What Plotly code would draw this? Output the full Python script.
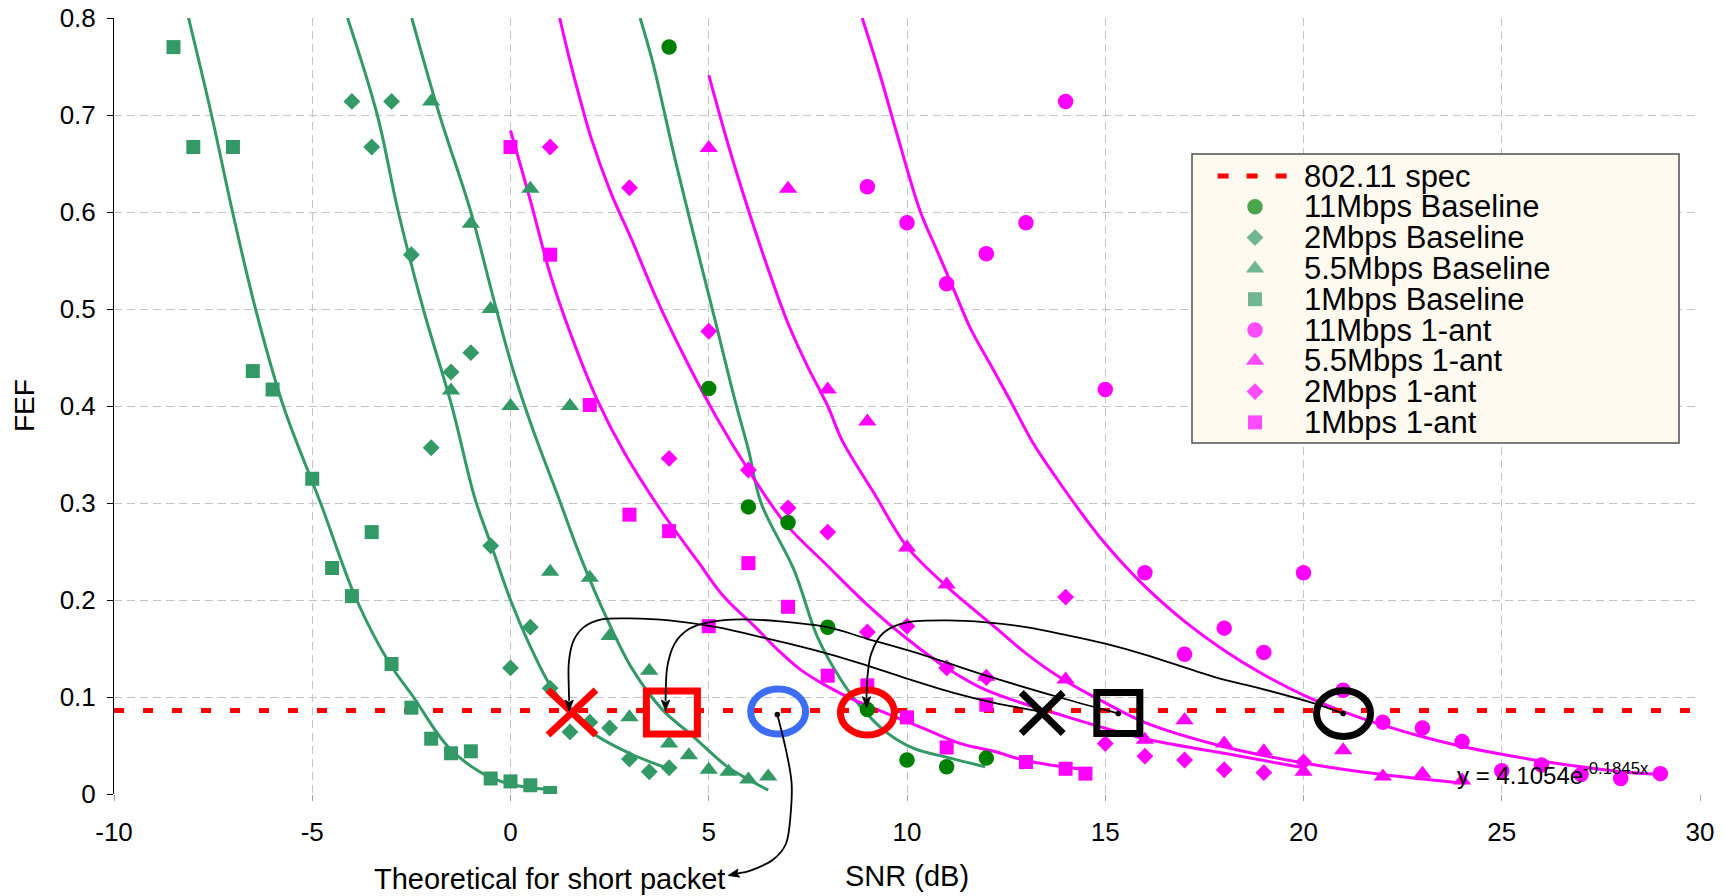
import math
import plotly.graph_objects as go

# ---------------- colours ----------------
SEA = "#339966"
GREEN = "#008000"
MAG = "#FF00FF"
FONT = "Liberation Sans, Arial, sans-serif"

# ---------------- measured data (SNR dB, FEF) ----------------
snr_11_base = [4, 5, 6, 7, 8, 9, 10, 11, 12]
fef_11_base = [0.770, 0.418, 0.296, 0.280, 0.172, 0.087, 0.035, 0.028, 0.037]

snr_2_base = [-4, -3.5, -3, -2.5, -2, -1.5, -1, -0.5, 0, 0.5, 1, 1.5, 2, 2.5, 3, 3.5, 4]
fef_2_base = [0.714, 0.667, 0.714, 0.556, 0.357, 0.435, 0.455, 0.256, 0.130, 0.172, 0.109,
              0.064, 0.074, 0.068, 0.036, 0.023, 0.027]

snr_55_base = [-2, -1.5, -1, -0.5, 0, 0.5, 1, 1.5, 2, 2.5, 3, 3.5, 4, 4.5, 5, 5.5, 6, 6.5]
fef_55_base = [0.714, 0.416, 0.588, 0.500, 0.400, 0.624, 0.229, 0.400, 0.223, 0.163, 0.079,
               0.127, 0.052, 0.040, 0.025, 0.023, 0.015, 0.018]

snr_1_base = [-8.5, -8, -7, -6.5, -6, -5, -4.5, -4, -3.5, -3, -2.5, -2, -1.5, -1, -0.5, 0, 0.5, 1]
fef_1_base = [0.770, 0.667, 0.667, 0.436, 0.417, 0.325, 0.233, 0.204, 0.270, 0.134, 0.089,
              0.057, 0.042, 0.044, 0.016, 0.013, 0.009, 0.001]

snr_11_ant = [9, 10, 11, 12, 13, 14, 15, 16, 17, 18, 19, 20, 21, 22, 23, 24, 25, 26, 27, 28, 29]
fef_11_ant = [0.626, 0.589, 0.526, 0.557, 0.589, 0.714, 0.417, 0.228, 0.144, 0.171, 0.146,
              0.228, 0.107, 0.074, 0.068, 0.054, 0.024, 0.030, 0.020, 0.016, 0.021]

snr_55_ant = [5, 7, 8, 9, 10, 11, 12, 14, 16, 17, 18, 19, 20, 21, 22, 23, 24]
fef_55_ant = [0.666, 0.624, 0.417, 0.384, 0.254, 0.216, 0.121, 0.118, 0.056, 0.076, 0.052,
              0.044, 0.023, 0.045, 0.018, 0.021, 0.014]

snr_2_ant = [1, 3, 4, 5, 6, 7, 8, 9, 10, 11, 12, 14, 15, 16, 17, 18, 19, 20]
fef_2_ant = [0.667, 0.625, 0.346, 0.477, 0.334, 0.295, 0.270, 0.167, 0.173, 0.130, 0.120,
             0.203, 0.052, 0.039, 0.035, 0.025, 0.022, 0.033]

snr_1_ant = [0, 1, 2, 3, 4, 5, 6, 7, 8, 9, 10, 11, 12, 13, 14, 14.5]
fef_1_ant = [0.667, 0.556, 0.401, 0.288, 0.271, 0.173, 0.238, 0.193, 0.122, 0.112, 0.079,
             0.048, 0.092, 0.033, 0.026, 0.021]

spec_snr = [-10, 30]
spec_fef = [0.086, 0.086]

x_tick_vals = [-10, -5, 0, 5, 10, 15, 20, 25, 30]
x_tick_text = ["-10", "-5", "0", "5", "10", "15", "20", "25", "30"]

# ---------------- trend lines ----------------
tr_1_base_x = [-8.12, -7.54, -7.01, -6.43, -5.73, -4.79, -3.88, -3.04, -2.45, -1.58, -0.74, 0.0, 0.62, 0.9]
tr_1_base_y = [0.8, 0.7, 0.6, 0.5, 0.4, 0.3, 0.2, 0.134, 0.1, 0.049, 0.022, 0.010, 0.006, 0.005]

tr_2_base_x = [-4.11, -3.36, -2.83, -2.2, -1.48, -0.9, -0.48, 0.0, 0.5, 1.0, 1.5, 2.0, 3.0, 4.0]
tr_2_base_y = [0.8, 0.7, 0.6, 0.5, 0.4, 0.305, 0.256, 0.2, 0.152, 0.112, 0.086, 0.065, 0.042, 0.026]

tr_55_base_x = [-2.49, -1.79, -1.0, -0.43, 0.08, 0.58, 1.18, 1.77, 2.44, 3.07, 3.83, 4.59, 5.44, 6.0, 6.5]
tr_55_base_y = [0.8, 0.7, 0.6, 0.511, 0.435, 0.374, 0.309, 0.244, 0.18, 0.129, 0.087, 0.06, 0.029, 0.015, 0.004]

tr_11_base_x = [3.27, 3.59, 3.88, 4.14, 4.64, 5.15, 5.66, 6.0, 6.32, 7.15, 7.74, 8.33, 8.83, 9.5, 10.17, 11.09, 11.97]
tr_11_base_y = [0.8, 0.754, 0.703, 0.656, 0.573, 0.49, 0.406, 0.355, 0.3, 0.231, 0.162, 0.118, 0.09, 0.063, 0.047, 0.037, 0.028]

tr_1_ant_x = [0, 0.5, 1.0, 1.51, 2.19, 2.87, 3.8, 4.72, 5.39, 6.15, 6.73, 7.32, 7.99, 8.66, 9.25,
              10.51, 11.35, 12.19, 12.94, 13.94, 14.62]
tr_1_ant_y = [0.684, 0.612, 0.536, 0.475, 0.406, 0.352, 0.292, 0.24, 0.203, 0.173, 0.149, 0.128,
              0.111, 0.097, 0.087, 0.066, 0.052, 0.044, 0.035, 0.028, 0.025]

tr_2_ant_x = [1.24, 1.51, 1.77, 2.02, 2.53, 3.04, 3.71, 4.48, 5.24, 6.0, 6.93, 8.0, 9.0, 10.0,
              11.0, 12.0, 14.0, 16.0, 18.0, 20.0]
tr_2_ant_y = [0.8, 0.754, 0.714, 0.678, 0.62, 0.573, 0.508, 0.443, 0.385, 0.334, 0.279, 0.235,
              0.195, 0.16, 0.13, 0.107, 0.080, 0.057, 0.042, 0.027]

tr_55_ant_x = [5.0, 5.5, 6.0, 6.5, 7.0, 7.5, 8.0, 8.37, 9.17, 10.0, 11.0, 12.19, 13.0, 13.94,
               15.0, 16.04, 17.97, 20.0, 21.99, 24.08]
tr_55_ant_y = [0.741, 0.668, 0.602, 0.541, 0.485, 0.44, 0.40, 0.364, 0.31, 0.255, 0.214, 0.173,
               0.145, 0.118, 0.094, 0.073, 0.049, 0.032, 0.020, 0.011]

tr_11_ant_x = [8.87, 9.33, 9.75, 10.34, 10.76, 11.18, 11.6, 12.1, 12.6, 13.19, 13.78, 14.5, 15, 16,
               17, 18, 19, 20, 21, 22, 23, 24, 25, 26, 27, 28, 29]
tr_11_ant_y = [0.80, 0.74, 0.68, 0.60, 0.56, 0.52, 0.48, 0.443, 0.406, 0.361, 0.325, 0.284, 0.258,
               0.214, 0.178, 0.148, 0.123, 0.102, 0.085, 0.071, 0.059, 0.049, 0.041, 0.034, 0.028,
               0.023, 0.020]

# ---------------- callout glyphs and arrows ----------------
mark_kind = ["x", "square", "ring", "ring", "x", "square", "ring"]
mark_x = [1.55, 4.07, 6.75, 9.0, 13.41, 15.33, 21.01]
mark_y = [0.084, 0.084, 0.085, 0.084, 0.0835, 0.0835, 0.083]
mark_color = ["#FF0000", "#FF0000", "#3D6DF5", "#FF0000", "#000000", "#000000", "#000000"]
mark_w_px = [53, 58, 62, 61, 47, 50, 61]
mark_h_px = [50, 50, 52, 52, 46, 48, 53]

dot_x = [6.73, 15.33, 21.0]
dot_y = [0.082, 0.083, 0.083]

arrow_a = [(13.35, 0.085), (12.2, 0.094), (11.2, 0.104), (10.0, 0.119), (8.8, 0.135), (7.6, 0.149),
           (6.4, 0.161), (5.2, 0.172), (4.0, 0.179), (3.0, 0.181), (2.3, 0.180), (1.85, 0.172),
           (1.58, 0.157), (1.47, 0.135), (1.47, 0.11), (1.48, 0.096)]
arrow_b = [(15.33, 0.083), (13.81, 0.100), (12.0, 0.122), (10.44, 0.143), (9.0, 0.160), (7.99, 0.172),
           (6.8, 0.178), (5.81, 0.180), (5.0, 0.177), (4.5, 0.17), (4.14, 0.155), (3.95, 0.13),
           (3.91, 0.096)]
arrow_c = [(21.0, 0.083), (20.23, 0.094), (18.9, 0.109), (17.72, 0.121), (16.06, 0.143), (15.0, 0.155),
           (14.0, 0.164), (13.0, 0.172), (12.0, 0.177), (11.0, 0.179), (10.0, 0.177), (9.4, 0.166),
           (9.1, 0.145), (9.0, 0.12), (8.98, 0.099)]
arrow_d = [(6.73, 0.082), (6.95, 0.045), (7.09, 0.011), (7.06, -0.023), (6.95, -0.051),
           (6.61, -0.068), (6.05, -0.079), (5.7, -0.082)]
# tip position (data) and screen direction the head points to (pixels, y down)
arrow_tips = [(1.48, 0.0855, 0, 1), (3.91, 0.0855, 0, 1), (8.98, 0.089, 0, 1), (5.49, -0.084, -22, 5)]

# ---------------- geometry ----------------
W, H = 1723, 896
ML, MR, MT, MB = 114, 23, 18, 102
XR = [-10, 30]
YR = [0, 0.8]
PW = W - ML - MR
PH = H - MT - MB


def px2x(px):
    return XR[0] + (px - ML) / PW * (XR[1] - XR[0])


def py2y(py):
    return YR[0] + (H - MB - py) / PH * (YR[1] - YR[0])


def wpx(n):
    return n / PW * (XR[1] - XR[0])


def hpx(n):
    return n / PH * (YR[1] - YR[0])


def to_paper(p):
    return ((p[0] - XR[0]) / (XR[1] - XR[0]), (p[1] - YR[0]) / (YR[1] - YR[0]))


def smooth_path(pts, conv=lambda p: p):
    P = [conv(p) for p in pts]
    n = len(P)
    d = "M%.5f,%.6f" % P[0]
    for i in range(n - 1):
        p0 = P[i - 1] if i > 0 else P[i]
        p1, p2 = P[i], P[i + 1]
        p3 = P[i + 2] if i + 2 < n else P[i + 1]
        c1 = (p1[0] + (p2[0] - p0[0]) / 6, p1[1] + (p2[1] - p0[1]) / 6)
        c2 = (p2[0] - (p3[0] - p1[0]) / 6, p2[1] - (p3[1] - p1[1]) / 6)
        d += " C%.5f,%.6f %.5f,%.6f %.5f,%.6f" % (c1[0], c1[1], c2[0], c2[1], p2[0], p2[1])
    return d


def head_path(tx, ty, ux, uy, length=11.0, half=4.2):
    """Filled arrow head; tip in data units, direction in screen pixels."""
    n = math.hypot(ux, uy)
    ux, uy = ux / n, uy / n
    bx, by = -ux * length, -uy * length          # base centre offset (px)
    nx, ny = -uy * half, ux * half                # normal (px)
    tip = to_paper((tx, ty))

    def off(dx, dy):
        return (tip[0] + dx / PW, tip[1] - dy / PH)
    p1 = off(bx + nx, by + ny)
    p2 = off(bx * 0.8, by * 0.8)
    p3 = off(bx - nx, by - ny)
    return "M%.6f,%.6f L%.6f,%.6f L%.6f,%.6f L%.6f,%.6f Z" % (tip[0], tip[1], p1[0], p1[1],
                                                            p2[0], p2[1], p3[0], p3[1])


fig = go.Figure()

# trend lines
trends = [
    (tr_1_base_x, tr_1_base_y, SEA), (tr_2_base_x, tr_2_base_y, SEA),
    (tr_55_base_x, tr_55_base_y, SEA), (tr_11_base_x, tr_11_base_y, SEA),
    (tr_1_ant_x, tr_1_ant_y, MAG), (tr_2_ant_x, tr_2_ant_y, MAG),
    (tr_55_ant_x, tr_55_ant_y, MAG), (tr_11_ant_x, tr_11_ant_y, MAG),
]
for tx, ty, col in trends:
    fig.add_trace(go.Scatter(x=tx, y=ty, mode="lines", showlegend=False, hoverinfo="skip",
                             line=dict(color=col, width=3, shape="spline", smoothing=1.0)))

# spec line
fig.add_trace(go.Scatter(x=spec_snr, y=spec_fef, mode="lines", name="802.11 spec", showlegend=False,
                         line=dict(color="#FF0000", width=5, dash="10px,19px")))

SIZES = {"circle": 15.5, "diamond": 13, "triangle-up": 16, "square": 14}
series = [
    ("11Mbps Baseline", snr_11_base, fef_11_base, "circle", GREEN),
    ("2Mbps Baseline", snr_2_base, fef_2_base, "diamond", SEA),
    ("5.5Mbps Baseline", snr_55_base, fef_55_base, "triangle-up", SEA),
    ("1Mbps Baseline", snr_1_base, fef_1_base, "square", SEA),
    ("11Mbps 1-ant", snr_11_ant, fef_11_ant, "circle", MAG),
    ("5.5Mbps 1-ant", snr_55_ant, fef_55_ant, "triangle-up", MAG),
    ("2Mbps 1-ant", snr_2_ant, fef_2_ant, "diamond", MAG),
    ("1Mbps 1-ant", snr_1_ant, fef_1_ant, "square", MAG),
]
for name, xs, ys, sym, col in series:
    fig.add_trace(go.Scatter(x=xs, y=ys, mode="markers", name=name, showlegend=False,
                             marker=dict(symbol=sym, color=col, size=SIZES[sym], line=dict(width=0))))

shapes = []
annotations = []

# ---------------- custom legend ----------------
LEG_X0, LEG_X1, LEG_Y0, LEG_Y1 = 1192, 1679, 154, 443
ROW0, ROW_STEP = 176, 30.8
SYM_PX, TEXT_PX = 1255, 1302
shapes.append(dict(type="rect", xref="x", yref="y", layer="between",
                   x0=px2x(LEG_X0), x1=px2x(LEG_X1), y0=py2y(LEG_Y1), y1=py2y(LEG_Y0),
                   fillcolor="#FFFAF0", line=dict(color="#505050", width=1.5)))
legend_names = ["802.11 spec"] + [s[0] for s in series]
rows_py = [ROW0 + ROW_STEP * i for i in range(len(legend_names))]
shapes.append(dict(type="line", xref="x", yref="y", x0=px2x(1217.6), x1=px2x(1286.6),
                   y0=py2y(rows_py[0]), y1=py2y(rows_py[0]),
                   line=dict(color="#FF0000", width=5, dash="11px,18px")))
fig.add_trace(go.Scatter(
    x=[px2x(SYM_PX)] * len(series), y=[py2y(p) for p in rows_py[1:]], mode="markers",
    showlegend=False, hoverinfo="skip",
    marker=dict(symbol=[s[3] for s in series], color=[s[4] for s in series],
                size=[SIZES[s[3]] for s in series], line=dict(width=0))))
for name, py in zip(legend_names, rows_py):
    annotations.append(dict(text=name, x=px2x(TEXT_PX), y=py2y(py), xref="x", yref="y",
                            xanchor="left", yanchor="middle", showarrow=False,
                            font=dict(family=FONT, size=31, color="black")))

# ---------------- callout glyphs ----------------
LW = 7
for kind, cx, cy, col, wp, hp in zip(mark_kind, mark_x, mark_y, mark_color, mark_w_px, mark_h_px):
    if kind == "ring" or kind == "square":
        hx = wpx(wp / 2 - LW / 2)
        hy = hpx(hp / 2 - LW / 2)
        shapes.append(dict(type="circle" if kind == "ring" else "rect", xref="x", yref="y",
                           x0=cx - hx, x1=cx + hx, y0=cy - hy, y1=cy + hy,
                           line=dict(color=col, width=LW)))
    else:
        hx = wpx(wp / 2 - LW * 0.36)
        hy = hpx(hp / 2 - LW * 0.36)
        for sgn in (1, -1):
            shapes.append(dict(type="line", xref="x", yref="y", x0=cx - hx, x1=cx + hx,
                               y0=cy - sgn * hy, y1=cy + sgn * hy, line=dict(color=col, width=LW)))

for dx_, dy_ in zip(dot_x, dot_y):
    r1, r2 = wpx(2.8), hpx(2.8)
    shapes.append(dict(type="circle", xref="x", yref="y", x0=dx_ - r1, x1=dx_ + r1,
                       y0=dy_ - r2, y1=dy_ + r2, fillcolor="black", line=dict(color="black", width=0)))

# ---------------- curved arrows ----------------
for pts in (arrow_a, arrow_b, arrow_c, arrow_d):
    shapes.append(dict(type="path", xref="paper", yref="paper", path=smooth_path(pts, to_paper),
                       line=dict(color="black", width=1.8)))
for tx, ty, ux, uy in arrow_tips:
    shapes.append(dict(type="path", xref="paper", yref="paper", path=head_path(tx, ty, ux, uy),
                       fillcolor="black", line=dict(color="black", width=0.8)))

# ---------------- texts ----------------
tp = to_paper((5.47, -0.0875))
annotations.append(dict(text="Theoretical for short packet", x=tp[0], y=tp[1], xref="paper", yref="paper",
                        xanchor="right", yanchor="middle", showarrow=False,
                        font=dict(family=FONT, size=29, color="black")))
annotations.append(dict(text="y = 4.1054e<sup>-0.1845x</sup>", x=23.82, y=0.021, xref="x", yref="y",
                        xanchor="left", yanchor="middle", showarrow=False,
                        font=dict(family=FONT, size=24, color="black")))
annotations.append(dict(text="SNR (dB)", x=0.5, y=(H - MB - 876) / PH, xref="paper", yref="paper",
                        xanchor="center", yanchor="middle", showarrow=False,
                        font=dict(family=FONT, size=29, color="black")))
annotations.append(dict(text="FEF", x=(24 - ML) / PW, y=0.5, xref="paper", yref="paper",
                        xanchor="center", yanchor="middle", showarrow=False, textangle=-90,
                        font=dict(family=FONT, size=28, color="black")))

fig.update_layout(
    width=W, height=H, margin=dict(l=ML, r=MR, t=MT, b=MB, autoexpand=False),
    paper_bgcolor="white", plot_bgcolor="white", showlegend=False,
    font=dict(family=FONT, color="black"),
    shapes=shapes, annotations=annotations,
    xaxis=dict(range=XR, tickmode="array", tickvals=x_tick_vals, ticktext=x_tick_text,
               showgrid=True, gridcolor="#C4C4C4", gridwidth=1.2,
               griddash="8px,5px", zeroline=False, showline=False, ticks="outside", ticklen=6,
               tickcolor="#A0A0A0", tickfont=dict(family=FONT, size=26, color="black"),
               ticklabelstandoff=9, fixedrange=True),
    yaxis=dict(range=YR, dtick=0.1, tick0=0, showgrid=True, gridcolor="#C4C4C4", gridwidth=1.2,
               griddash="8px,5px", zeroline=False, showline=True, linecolor="black", linewidth=1,
               ticks="outside", ticklen=6, tickcolor="black",
               tickfont=dict(family=FONT, size=26, color="black"), ticklabelstandoff=6,
               fixedrange=True),
)

fig.write_html("out.html")
